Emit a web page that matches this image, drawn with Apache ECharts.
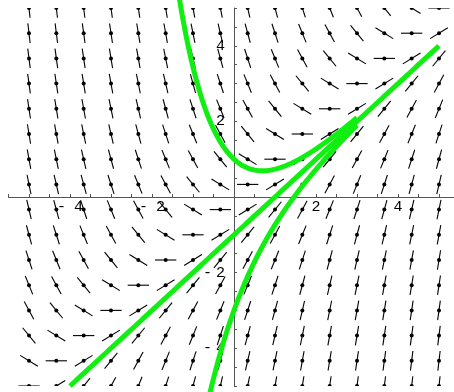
<!DOCTYPE html>
<html>
<head>
<meta charset="utf-8">
<script src="https://cdn.jsdelivr.net/npm/echarts@6/dist/echarts.min.js"></script>
<style>
  html, body { margin: 0; padding: 0; background: #ffffff; }
  #chart { width: 454px; height: 392px; }
</style>
</head>
<body>
<div id="chart"></div>
<script>
// Direction field of the ODE  y' = x - y  on a 16 x 16 lattice,
// together with three of its solutions  y = x - 1 + C e^(-x).

// lattice points (thirds of a unit, from -5 to 5 in steps of 2/3)
const latticeX = [-15, -13, -11, -9, -7, -5, -3, -1, 1, 3, 5, 7, 9, 11, 13, 15].map(v => v / 3);
const latticeY = [-15, -13, -11, -9, -7, -5, -3, -1, 1, 3, 5, 7, 9, 11, 13, 15].map(v => v / 3);

// labelled ticks
const xTickLabels = [-4, -2, 2, 4];
const yTickLabels = [-4, -2, 2, 4];

// solution curves: constant C and x-interval of each
const solutionC = [2, 0, -2];
const solutionStart = [-1.7, -4, -0.7];
const solutionEnd = [3, 5, 3];

function slope(x, y) { return x - y; }

const fieldData = [];
latticeX.forEach(x => latticeY.forEach(y => fieldData.push([x, y, slope(x, y)])));

function solution(C, x) { return x - 1 + C * Math.exp(-x); }

const curveSeries = solutionC.map((C, k) => {
  const pts = [];
  const a = solutionStart[k], b = solutionEnd[k], n = 300;
  for (let i = 0; i <= n; i++) {
    const x = a + (b - a) * i / n;
    pts.push([x, solution(C, x)]);
  }
  return {
    type: 'line',
    data: pts,
    showSymbol: false,
    clip: false,
    z: 5,
    lineStyle: { color: '#11ee11', width: 5, cap: 'butt', join: 'round' },
    silent: true,
    animation: false
  };
});

const SEG = 0.52;   // segment length in data units

const mono = 'Liberation Mono, Courier New, monospace';

// plot frame: x in [-5.5, 5.5], y in [-5, 5]
const W = 454, H = 392;
const gridLeft = 8.5, gridRight = -5.5, gridTop = 8, gridBottom = 6;
const gridW = W - gridLeft - gridRight, gridH = H - gridTop - gridBottom;
// pixel distance from grid edges to the zero lines
const xZeroFromLeft = gridW * (0 - (-5.5)) / 11;
const yZeroFromBottom = gridH * (0 - (-5)) / 10;

function tickLabel(list) {
  return function (v) {
    const r = Math.round(v * 100) / 100;
    if (!list.includes(r)) return '';
    return r < 0 ? '{m|-}{d|' + (-r) + '}' : '{d|' + r + '}';
  };
}

const chart = echarts.init(document.getElementById('chart'), null, { renderer: 'canvas' });
chart.setOption({
  animation: false,
  backgroundColor: '#ffffff',
  grid: { left: gridLeft, right: gridRight, top: gridTop, bottom: gridBottom,
          containLabel: false, outerBoundsMode: 'none' },
  xAxis: {
    type: 'value', min: -5.5, max: 5.5, interval: 0.5,
    position: 'bottom', offset: -yZeroFromBottom,
    axisLine: { onZero: false, lineStyle: { color: '#555555', width: 1 } },
    axisTick: { inside: true, length: 3, lineStyle: { color: '#555555', width: 1 } },
    splitLine: { show: false },
    axisLabel: {
      margin: 3,
      hideOverlap: false,
      formatter: tickLabel(xTickLabels),
      rich: {
        m: { fontFamily: mono, fontSize: 15, color: '#000', width: 17, align: 'left' },
        d: { fontFamily: mono, fontSize: 15, color: '#000' }
      }
    }
  },
  yAxis: {
    type: 'value', min: -5, max: 5, interval: 0.5,
    position: 'left', offset: -xZeroFromLeft,
    axisLine: { onZero: false, lineStyle: { color: '#555555', width: 1 } },
    axisTick: { inside: true, length: 3, lineStyle: { color: '#555555', width: 1 } },
    splitLine: { show: false },
    axisLabel: {
      margin: 9,
      hideOverlap: false,
      formatter: tickLabel(yTickLabels),
      rich: {
        m: { fontFamily: mono, fontSize: 15, color: '#000', width: 13, align: 'left' },
        d: { fontFamily: mono, fontSize: 15, color: '#000' }
      }
    }
  },
  series: [
    {
      type: 'custom',
      data: fieldData,
      clip: true,
      z: 3,
      silent: true,
      renderItem: function (params, api) {
        const x = api.value(0), y = api.value(1), m = api.value(2);
        const n = Math.sqrt(1 + m * m);
        const dx = SEG / 2 / n, dy = SEG / 2 * m / n;
        const p0 = api.coord([x - dx, y - dy]);
        const p1 = api.coord([x + dx, y + dy]);
        const c = api.coord([x, y]);
        return {
          type: 'group',
          children: [
            { type: 'line', shape: { x1: p0[0], y1: p0[1], x2: p1[0], y2: p1[1] },
              style: { stroke: '#000000', lineWidth: 1.1 } },
            { type: 'circle', shape: { cx: c[0], cy: c[1], r: 2 },
              style: { fill: '#000000' } }
          ]
        };
      }
    }
  ].concat(curveSeries)
});
</script>
</body>
</html>
